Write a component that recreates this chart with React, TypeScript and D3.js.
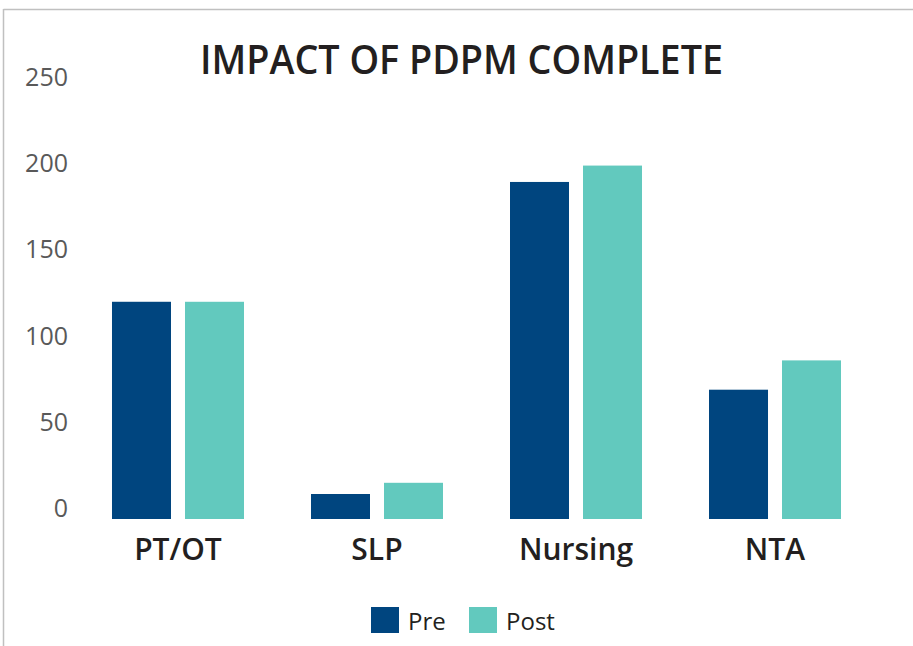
import React from "react";
import * as d3 from "d3";

const categories = ["PT/OT", "SLP", "Nursing", "NTA"];
const seriesNames = ["Pre", "Post"];
const preValues = [126, 14.5, 195.5, 75];
const postValues = [126, 21, 205, 92];
const yTicks = [0, 50, 100, 150, 200, 250];
const title = "IMPACT OF PDPM COMPLETE";

const colors: Record<string, string> = { Pre: "#00457F", Post: "#62C9BE" };
const FONT = "'Open Sans', 'Noto Sans', sans-serif";

export default function App() {
  const W = 913;
  const H = 646;
  const x0 = d3
    .scaleBand<string>()
    .domain(categories)
    .range([78.5, 874.5])
    .paddingInner(0.3367)
    .paddingOuter(0.1683);
  const x1 = d3
    .scaleBand<string>()
    .domain(seriesNames)
    .range([0, x0.bandwidth()])
    .paddingInner(0.1918);
  const y = d3.scaleLinear().domain([0, 250]).range([519, 88]);

  const rows = categories.map((c, i) => ({ c, Pre: preValues[i], Post: postValues[i] }));

  const legendItems = [
    { name: "Pre", x: 371 },
    { name: "Post", x: 469 },
  ];

  return (
    <svg
      width={W}
      height={H}
      style={{ position: "absolute", left: 0, top: 0, background: "#fff" }}
      fontFamily={FONT}
    >
      <rect x={0} y={0} width={W} height={H} fill="#fff" />
      <line x1={3.5} y1={9} x2={3.5} y2={H} stroke="#c0c0c0" strokeWidth={1.5} />
      <line x1={3.5} y1={9.5} x2={W} y2={9.5} stroke="#c0c0c0" strokeWidth={1.5} />

      <text
        x={200}
        y={74}
        fontSize={40}
        fontWeight={600}
        fill="#231F20"
        textLength={523}
        lengthAdjust="spacingAndGlyphs"
      >
        {title}
      </text>

      {yTicks.map((t) => (
        <text key={t} x={68} y={y(t) - 2} textAnchor="end" fontSize={25} fill="#595959">
          {t}
        </text>
      ))}

      {rows.map((r) => (
        <g key={r.c} transform={`translate(${x0(r.c)},0)`}>
          {seriesNames.map((s) => (
            <rect
              key={s}
              x={x1(s)}
              y={y((r as any)[s])}
              width={x1.bandwidth()}
              height={y(0) - y((r as any)[s])}
              fill={colors[s]}
            />
          ))}
          <text
            x={x0.bandwidth() / 2}
            y={560}
            textAnchor="middle"
            fontSize={30}
            fontWeight={600}
            fill="#231F20"
          >
            {r.c}
          </text>
        </g>
      ))}

      {legendItems.map((l) => (
        <g key={l.name}>
          <rect x={l.x} y={607} width={28} height={26} fill={colors[l.name]} />
          <text x={l.x + 37} y={630} fontSize={24} fill="#231F20">
            {l.name}
          </text>
        </g>
      ))}
    </svg>
  );
}
